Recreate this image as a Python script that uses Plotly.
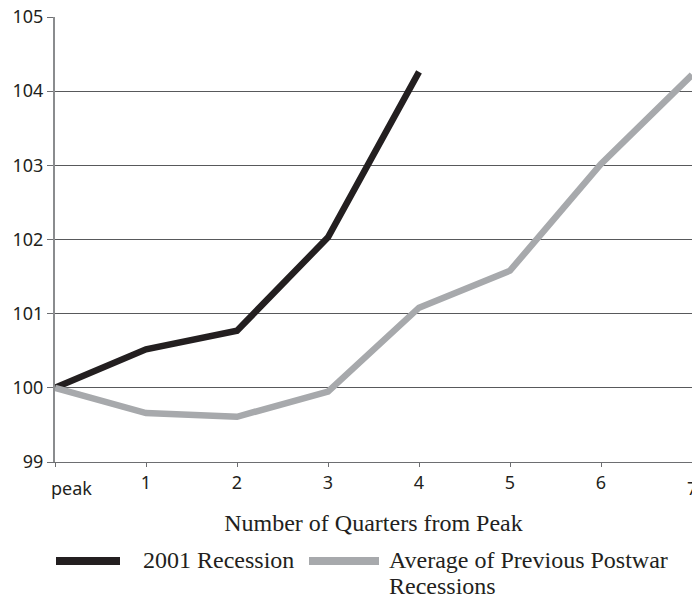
import plotly.graph_objects as go

# Quarters after the business-cycle peak
quarters = [0, 1, 2, 3, 4, 5, 6, 7]
tick_labels = ["peak", "1", "2", "3", "4", "5", "6", "7"]

# Index, peak = 100
recession_2001 = [100.0, 100.52, 100.77, 102.03, 104.26]
avg_previous = [100.0, 99.66, 99.61, 99.95, 101.08, 101.58, 103.02, 104.22]

# legend labels, one list entry per printed line
series_names = [["2001 Recession"], ["Average of Previous Postwar", "Recessions"]]
series_colors = ["#231f20", "#a7a9ac"]

y_ticks = [99, 100, 101, 102, 103, 104, 105]

W, H = 692, 600
L, R, T, B = 55, 0, 17, 138
PW, PH = W - L - R, H - T - B

SANS = "Noto Sans, Open Sans, sans-serif"
SERIF = "Liberation Serif, Times New Roman, serif"
TICK_FONT = dict(family=SANS, size=18, color="#231f20")
TEXT_FONT = dict(family=SERIF, size=24, color="#231f20")


def px_x(px):
    return (px - L) / PW


def px_y(py):
    return (H - B - py) / PH


fig = go.Figure()
fig.add_trace(go.Scatter(
    x=quarters[:len(recession_2001)], y=recession_2001, mode="lines",
    name=" ".join(series_names[0]), line=dict(color=series_colors[0], width=6.5),
    showlegend=False,
))
fig.add_trace(go.Scatter(
    x=quarters[:len(avg_previous)], y=avg_previous, mode="lines",
    name=" ".join(series_names[1]), line=dict(color=series_colors[1], width=6.5),
    showlegend=False,
))

fig.update_xaxes(
    range=[0, 7], tickvals=quarters,
    ticktext=[""] + tick_labels[1:-1] + [""],
    showgrid=False, zeroline=False,
    showline=True, linecolor="#6d6e71", linewidth=1.3,
    ticks="outside", ticklen=4, tickwidth=1, tickcolor="#6d6e71",
    tickfont=TICK_FONT,
    title=dict(text="Number of Quarters from Peak", font=TEXT_FONT, standoff=21),
)
fig.update_yaxes(
    range=[99, 105], tickvals=y_ticks,
    showgrid=True, gridcolor="#58595b", gridwidth=1.2,
    zeroline=False,
    showline=True, linecolor="#8a8c8e", linewidth=2,
    ticks="outside", ticklen=6, tickwidth=1, tickcolor="#6d6e71",
    tickfont=TICK_FONT,
)

# first tick label sits to the right of the axis; the last one runs off the edge
fig.add_annotation(x=quarters[0], y=99, xref="x", yref="y", text=tick_labels[0],
                   showarrow=False, xanchor="left", yanchor="top",
                   xshift=-6, yshift=-12, font=TICK_FONT)
fig.add_annotation(x=quarters[-1], y=99, xref="x", yref="y", text=tick_labels[-1],
                   showarrow=False, xanchor="center", yanchor="top",
                   yshift=-12, font=TICK_FONT)

# legend drawn below the axis title
legend_items = [
    (56, 120, 142),
    (309, 379, 388),
]
ROW_TOP, ROW_STEP = 546, 26
for (x0, x1, tx), lines, color in zip(legend_items, series_names, series_colors):
    fig.add_shape(type="line", xref="paper", yref="paper",
                  x0=px_x(x0), x1=px_x(x1), y0=px_y(561), y1=px_y(561),
                  line=dict(color=color, width=8))
    for i, line_text in enumerate(lines):
        fig.add_annotation(x=px_x(tx), y=px_y(ROW_TOP + i * ROW_STEP),
                           xref="paper", yref="paper", borderpad=0,
                           text=line_text, showarrow=False, xanchor="left",
                           yanchor="top", align="left", font=TEXT_FONT)

fig.update_layout(
    width=W, height=H,
    margin=dict(l=L, r=R, t=T, b=B),
    paper_bgcolor="white", plot_bgcolor="white",
    showlegend=False,
)

fig.write_html("out.html")
